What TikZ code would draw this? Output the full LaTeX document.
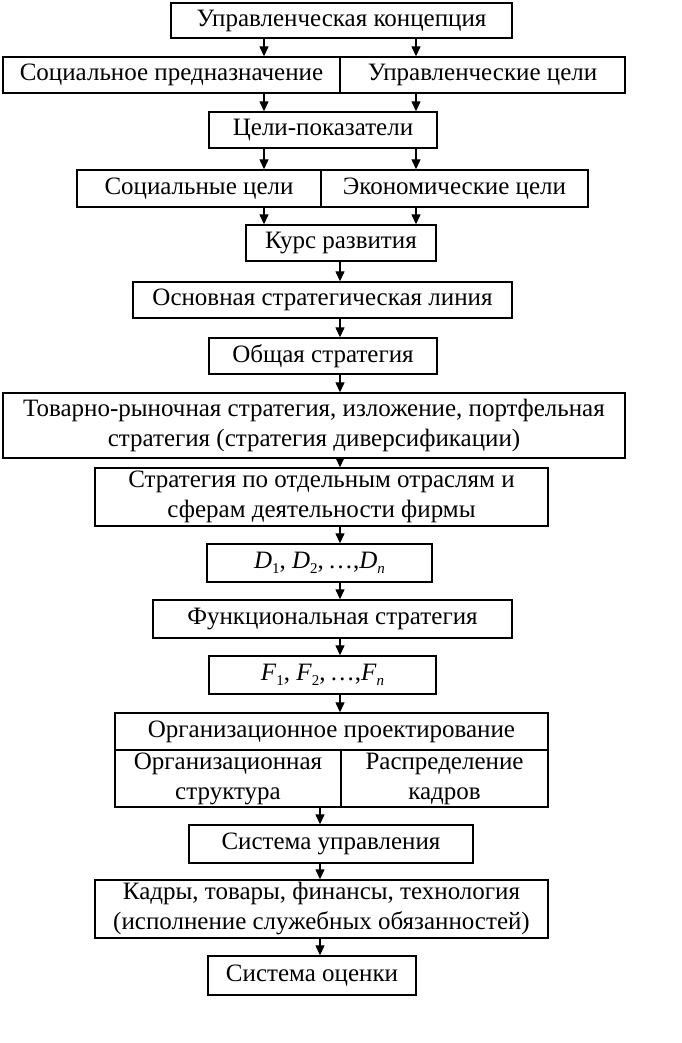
\documentclass[tikz,border=0pt]{standalone}
\usepackage{fontspec}
\setmainfont{Liberation Serif}
\usetikzlibrary{arrows.meta}
\tikzset{
  box/.style={draw, line width=1.4pt, inner sep=0pt, align=center,
    font=\fontsize{25}{30}\selectfont},
  arr/.style={line width=1.3pt, -{Triangle[length=10pt,width=9pt]}},
}
\newcommand\mybox[6]{%
  \node[box, minimum width={(#3-#2)*1pt}, minimum height={(#5-#4)*1pt}]
    (#1) at ({(#2+#3)/2},{(#4+#5)/2}) {#6};}
\newcommand\sub[1]{\raisebox{-0.4ex}{\fontsize{15}{15}\selectfont #1}}
\begin{document}
\begin{tikzpicture}[x=1pt,y=-1pt]
\useasboundingbox (0,0) rectangle (681,1043);
\mybox{A}{171}{512}{3}{38}{Управленческая концепция}
\mybox{B1}{3}{340}{57}{93}{Социальное предназначение}
\mybox{B2}{340}{625}{57}{93}{Управленческие цели}
\mybox{C}{209}{437}{112}{148}{Цели-показатели}
\mybox{D1}{77}{321}{170}{207}{Социальные цели}
\mybox{D2}{321}{588}{170}{207}{Экономические цели}
\mybox{E}{246}{436}{225}{261}{Курс развития}
\mybox{F}{133}{512}{282}{318}{Основная стратегическая линия}
\mybox{G}{209}{437}{338}{374}{Общая стратегия}
\mybox{H}{3}{625}{393}{458}{Товарно-рыночная стратегия, изложение, портфельная\\стратегия (стратегия диверсификации)}
\mybox{I}{95}{548}{468}{526}{Стратегия по отдельным отраслям и\\сферам деятельности фирмы}
\mybox{J}{207}{432}{544}{582}{\textit{D}\sub{1}, \textit{D}\sub{2},\,\ldots,\textit{D}\sub{\textit{n}}}
\mybox{K}{153}{512}{600}{638}{Функциональная стратегия}
\mybox{L}{209}{436}{656}{694}{\textit{F}\sub{1}, \textit{F}\sub{2},\,\ldots,\textit{F}\sub{\textit{n}}}
\mybox{M}{115}{548}{713}{750}{Организационное проектирование}
\mybox{M1}{115}{341}{750}{807}{Организационная\\структура}
\mybox{M2}{341}{548}{750}{807}{Распределение\\кадров}
\mybox{N}{189}{473}{825}{863}{Система управления}
\mybox{O}{95}{548}{880}{938}{Кадры, товары, финансы, технология\\(исполнение служебных обязанностей)}
\mybox{P}{208}{416}{956}{995}{Система оценки}
\coordinate (xl) at (264,0);
\coordinate (xr) at (416,0);
\coordinate (xm) at (340,0);
\coordinate (xb) at (320,0);
\draw[arr] (A.south -| xl) -- (B1.north -| xl);
\draw[arr] (A.south -| xr) -- (B2.north -| xr);
\draw[arr] (B1.south -| xl) -- (C.north -| xl);
\draw[arr] (B2.south -| xr) -- (C.north -| xr);
\draw[arr] (C.south -| xl) -- (D1.north -| xl);
\draw[arr] (C.south -| xr) -- (D2.north -| xr);
\draw[arr] (D1.south -| xl) -- (E.north -| xl);
\draw[arr] (D2.south -| xr) -- (E.north -| xr);
\draw[arr] (E.south -| xm) -- (F.north -| xm);
\draw[arr] (F.south -| xm) -- (G.north -| xm);
\draw[arr] (G.south -| xm) -- (H.north -| xm);
\draw[arr] (H.south -| xm) -- (I.north -| xm);
\draw[arr] (I.south -| xm) -- (J.north -| xm);
\draw[arr] (J.south -| xm) -- (K.north -| xm);
\draw[arr] (K.south -| xm) -- (L.north -| xm);
\draw[arr] (L.south -| xm) -- (M.north -| xm);
\draw[arr] (M1.south -| xb) -- (N.north -| xb);
\draw[arr] (N.south -| xb) -- (O.north -| xb);
\draw[arr] (O.south -| xb) -- (P.north -| xb);
\end{tikzpicture}
\end{document}
